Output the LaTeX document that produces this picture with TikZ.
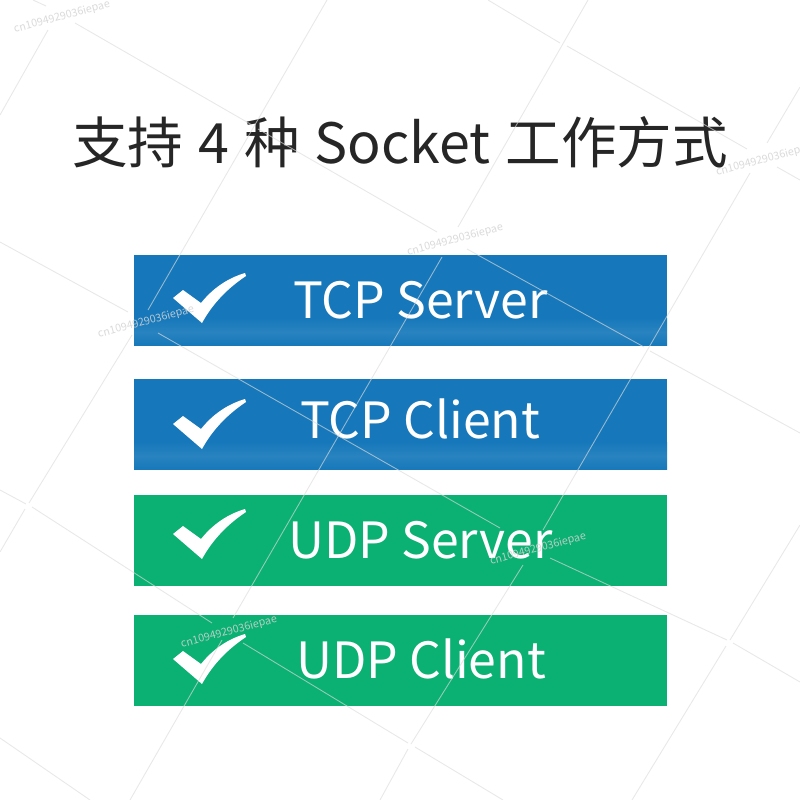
\documentclass[tikz,border=0pt]{standalone}
\usepackage{fontspec}
\setmainfont{Noto Sans CJK SC}
\definecolor{barblue}{HTML}{1678BA}
\definecolor{bargreen}{HTML}{0BB073}
\definecolor{titleink}{HTML}{262626}
\definecolor{markgray}{HTML}{D4D4D4}
\definecolor{linegray}{HTML}{DCDCDC}
\tikzset{
    barbox/.style={minimum width=5.33cm, minimum height=0.91cm, inner sep=0, outer sep=0},
    bartext/.style={anchor=base, inner sep=0, text=white, font=\fontsize{14.2}{14.2}\selectfont},
    markline/.style={draw=linegray, opacity=0.65, line width=0.25pt},
    marktext/.style={text=markgray, opacity=0.85, rotate=15, inner sep=0, font=\fontsize{3.05}{3.1}\selectfont},
    tickshape/.pic={
        \fill[white] (0,25) -- (10,17) -- (28,30)
            .. controls (40,15) and (55,5) .. (72,0) -- (73,3)
            .. controls (55,15) and (40,30) .. (29,50) -- cycle;
    }
}
\begin{document}
\begin{tikzpicture}[x=0.01cm, y=-0.01cm]
    \useasboundingbox (0,0) rectangle (800,800);
    \clip (0,0) rectangle (800,800);
    \fill[white] (0,0) rectangle (800,800);
    % title
    \node[anchor=base, inner sep=0, text=titleink, font=\fontsize{15.8}{15.8}\selectfont] (title) at (400,163) {\spaceskip=0.27em\relax 支持 4 种 Socket 工作方式};
    % bars
    \node[barbox, fill=barblue, anchor=north west] (tcps) at (134,255) {};
    \node[barbox, fill=barblue, anchor=north west] (tcpc) at (134,379) {};
    \node[barbox, fill=bargreen, anchor=north west] (udps) at (134,495) {};
    \node[barbox, fill=bargreen, anchor=north west] (udpc) at (134,615) {};
    \shade[top color=barblue, bottom color=barblue, middle color=barblue!92!white] (134,318) rectangle (667,345.5);
    \shade[top color=barblue, bottom color=barblue, middle color=barblue!92!white] (134,442) rectangle (667,469.5);
    \pic at (173,273) {tickshape};
    \pic at (173,399) {tickshape};
    \pic at (173,509) {tickshape};
    \pic at (173,634) {tickshape};
    \node[bartext] (tcpstext) at (420.5,318) {TCP Server};
    \node[bartext] (tcpctext) at (420,438) {TCP Client};
    \node[bartext] (udpstext) at (420.5,558) {UDP Server};
    \node[bartext] (udpctext) at (421,678) {UDP Client};
    % faint grid behind the shop marks
    \foreach \xa/\ya/\xb/\yb in {
        33/0/46/6, 75/23/252/125, 258/129/437/232, 467/249/644/347, 650/351/800/433,
        488/0/560/43, 567/46/747/149, 777/167/800/180,
        0/242/128/312, 158/333/500/528, 550/558/727/640, 733/643/800/682,
        0/490/26/504, 32/507/212/623, 243/643/408/743, 415/747/503/800,
        0/738/90/800,
        48/30/0/115, 327/0/148/310, 132/335/29/503, 25/509/0/552,
        588/0/458/227, 442/257/233/618, 222/640/130/800,
        800/87/767/143, 750/173/543/530, 523/565/411/744, 408/749/380/800,
        800/525/730/640, 726/646/632/800} {
        \draw[markline] (\xa,\ya) -- (\xb,\yb);
    }
    \foreach \xc/\yc in {62/17, 455/240, 764/160, 146/322, 538/549, 229/632, 849/455} {
        \node[marktext] at (\xc,\yc) {cn1094929036iepae};
    }
\end{tikzpicture}
\end{document}
